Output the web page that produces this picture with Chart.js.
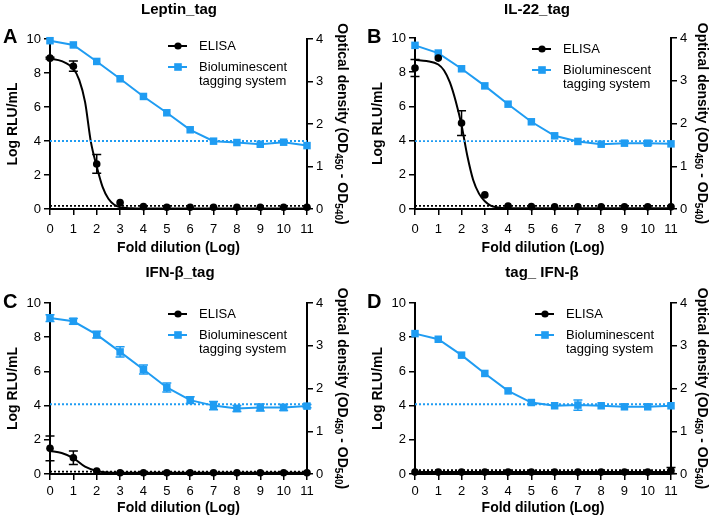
<!DOCTYPE html>
<html>
<head>
<meta charset="utf-8">
<script src="https://cdn.jsdelivr.net/npm/chart.js@4/dist/chart.umd.min.js"></script>
<style>
body { margin: 0; background: #fff; width: 713px; height: 518px; position: relative; overflow: hidden; }
canvas { position: absolute; }
</style>
</head>
<body>
<canvas id="cA" width="357" height="259" style="left:0;top:0"></canvas>
<canvas id="cB" width="355" height="259" style="left:358px;top:0"></canvas>
<canvas id="cC" width="357" height="259" style="left:0;top:259px"></canvas>
<canvas id="cD" width="355" height="259" style="left:358px;top:259px"></canvas>
<script>
// Datos
const dilution = [0, 1, 2, 3, 4, 5, 6, 7, 8, 9, 10, 11];

// A - Leptin_tag
const leptinBiolum = [9.9, 9.65, 8.68, 7.66, 6.62, 5.66, 4.66, 3.99, 3.91, 3.81, 3.93, 3.73];
const leptinBiolumErr = [0, 0, 0, 0, 0, 0, 0, 0, 0, 0, 0, 0];
const leptinElisa = [3.55, 3.36, 1.06, 0.15, 0.055, 0.04, 0.04, 0.04, 0.04, 0.04, 0.04, 0.04];
const leptinElisaErr = [0.02, 0.12, 0.22, 0, 0, 0, 0, 0, 0, 0, 0, 0];
const leptinFitX = [0, 0.5, 1, 1.25, 1.5, 1.75, 2, 2.25, 2.5, 2.75, 3, 3.5, 4, 11];
const leptinFitY = [3.54, 3.48, 3.3, 3.04, 2.52, 1.58, 1.0, 0.52, 0.24, 0.1, 0.04, 0.015, 0.01, 0.01];
const leptinCutoffs = [4.0, 0.18];

// B - IL-22_tag
const il22Biolum = [9.57, 9.12, 8.2, 7.2, 6.13, 5.1, 4.28, 3.95, 3.79, 3.85, 3.85, 3.81];
const il22BiolumErr = [0, 0, 0, 0, 0, 0, 0, 0, 0, 0, 0.1, 0];
const il22Elisa = [3.3, 3.53, 2.01, 0.33, 0.07, 0.055, 0.05, 0.05, 0.05, 0.05, 0.05, 0.05];
const il22ElisaErr = [0.2, 0, 0.29, 0, 0, 0, 0, 0, 0, 0, 0, 0];
const il22FitX = [0, 0.5, 1, 1.25, 1.5, 1.75, 2, 2.25, 2.5, 2.75, 3, 3.25, 3.5, 4, 11];
const il22FitY = [3.49, 3.46, 3.38, 3.24, 2.96, 2.52, 1.96, 1.24, 0.68, 0.36, 0.18, 0.08, 0.04, 0.02, 0.02];
const il22Cutoffs = [3.97, 0.18];

// C - IFN-β_tag
const ifnBiolum = [9.12, 8.93, 8.15, 7.14, 6.11, 5.06, 4.32, 4.0, 3.83, 3.89, 3.89, 3.97];
const ifnBiolumErr = [0.2, 0.17, 0.2, 0.3, 0.26, 0.26, 0.2, 0.24, 0.18, 0.2, 0.18, 0.1];
const ifnElisa = [0.6, 0.38, 0.07, 0.03, 0.03, 0.03, 0.03, 0.03, 0.03, 0.03, 0.03, 0.03];
const ifnElisaErr = [0.29, 0.16, 0, 0, 0, 0, 0, 0, 0, 0, 0, 0];
const ifnFitX = [0, 0.5, 1, 1.5, 2, 2.5, 3, 4, 11];
const ifnFitY = [0.54, 0.49, 0.37, 0.17, 0.07, 0.035, 0.03, 0.03, 0.03];
const ifnCutoffs = [4.08, 0.14];

// D - tag_ IFN-β
const tagIfnBiolum = [8.21, 7.88, 6.95, 5.88, 4.86, 4.18, 3.99, 4.03, 3.99, 3.93, 3.93, 3.99];
const tagIfnBiolumErr = [0, 0, 0, 0, 0, 0, 0, 0.3, 0, 0, 0, 0];
const tagIfnElisa = [0.045, 0.045, 0.045, 0.045, 0.045, 0.045, 0.045, 0.045, 0.045, 0.045, 0.045, 0.08];
const tagIfnElisaErr = [0, 0, 0, 0, 0, 0, 0, 0, 0, 0, 0, 0.07];
const tagIfnFitX = [0, 11];
const tagIfnFitY = [0.045, 0.045];
const tagIfnCutoffs = [4.08, 0.22];

const BLUE = "#1f9cf2";
const FONT = "'Liberation Sans', Arial, sans-serif";

const panels = [
    { id: "cA", title: "Leptin_tag", letter: "A", biolum: leptinBiolum, biolumErr: leptinBiolumErr,
      elisa: leptinElisa, elisaErr: leptinElisaErr, fitX: leptinFitX, fitY: leptinFitY, cut: leptinCutoffs,
      w: 357, h: 259, left: 50, right: 307, top: 39, bottom: 209,
      tx: 179, ty: 10, lx: 3, ly: 43, ytPad: 5, xtPad: 2, tickPad: 7, rtx: 342, legX: 168, legY: 46 },
    { id: "cB", title: "IL-22_tag", letter: "B", biolum: il22Biolum, biolumErr: il22BiolumErr,
      elisa: il22Elisa, elisaErr: il22ElisaErr, fitX: il22FitX, fitY: il22FitY, cut: il22Cutoffs,
      w: 355, h: 259, left: 57, right: 313, top: 38, bottom: 209,
      tx: 179, ty: 10, lx: 9, ly: 43, ytPad: 12, xtPad: 2, tickPad: 7, rtx: 344, legX: 174, legY: 49 },
    { id: "cC", title: "IFN-β_tag", letter: "C", biolum: ifnBiolum, biolumErr: ifnBiolumErr,
      elisa: ifnElisa, elisaErr: ifnElisaErr, fitX: ifnFitX, fitY: ifnFitY, cut: ifnCutoffs,
      w: 357, h: 259, left: 50, right: 307, top: 44, bottom: 215,
      tx: 180, ty: 14, lx: 3, ly: 49, ytPad: 5, xtPad: 1, tickPad: 4, rtx: 342, legX: 168, legY: 55 },
    { id: "cD", title: "tag_ IFN-β", letter: "D", biolum: tagIfnBiolum, biolumErr: tagIfnBiolumErr,
      elisa: tagIfnElisa, elisaErr: tagIfnElisaErr, fitX: tagIfnFitX, fitY: tagIfnFitY, cut: tagIfnCutoffs,
      w: 355, h: 259, left: 57, right: 313, top: 44, bottom: 215,
      tx: 184, ty: 14, lx: 9, ly: 49, ytPad: 12, xtPad: 1, tickPad: 4, rtx: 344, legX: 177, legY: 55 }
];

// Dibuja barras de error, títulos y leyenda
const decorPlugin = {
    id: "decor",
    afterDatasetsDraw(chart, args, opts) {
        const p = opts.panel;
        const ctx = chart.ctx;
        const xs = chart.scales.x, yL = chart.scales.y, yR = chart.scales.y1;
        ctx.save();

        // barras de error
        function bars(vals, errs, scale, color) {
            ctx.strokeStyle = color;
            ctx.lineWidth = 1.5;
            vals.forEach((v, i) => {
                const e = errs[i];
                if (!e) return;
                const x = xs.getPixelForValue(dilution[i]);
                const y1 = scale.getPixelForValue(v + e);
                const y2 = scale.getPixelForValue(Math.max(v - e, 0));
                ctx.beginPath();
                ctx.moveTo(x, y1); ctx.lineTo(x, y2);
                ctx.moveTo(x - 4.5, y1); ctx.lineTo(x + 4.5, y1);
                ctx.moveTo(x - 4.5, y2); ctx.lineTo(x + 4.5, y2);
                ctx.stroke();
            });
        }
        bars(p.biolum, p.biolumErr, yL, BLUE);
        bars(p.elisa, p.elisaErr, yR, "#000");

        // título y letra del panel
        ctx.fillStyle = "#000";
        ctx.textAlign = "center";
        ctx.textBaseline = "middle";
        ctx.font = "bold 15px " + FONT;
        ctx.fillText(p.title, p.tx, p.ty);
        ctx.textAlign = "left";
        ctx.textBaseline = "alphabetic";
        ctx.font = "bold 20px " + FONT;
        ctx.fillText(p.letter, p.lx, p.ly);

        // título del eje derecho con subíndices
        const parts = [
            ["Optical density (OD", 14, 0], ["450", 10, 4], [" - OD", 14, 0], ["540", 10, 4], [")", 14, 0]
        ];
        let total = 0;
        parts.forEach(s => { ctx.font = "bold " + s[1] + "px " + FONT; total += ctx.measureText(s[0]).width; });
        const cy = (chart.chartArea.top + chart.chartArea.bottom) / 2;
        ctx.translate(p.rtx, cy);
        ctx.rotate(Math.PI / 2);
        ctx.textBaseline = "middle";
        let pos = -total / 2;
        parts.forEach(s => {
            ctx.font = "bold " + s[1] + "px " + FONT;
            ctx.fillText(s[0], pos, s[2]);
            pos += ctx.measureText(s[0]).width;
        });
        ctx.setTransform(1, 0, 0, 1, 0, 0);

        // leyenda
        const lx = p.legX, ly = p.legY;
        ctx.lineWidth = 2;
        ctx.strokeStyle = "#000";
        ctx.beginPath(); ctx.moveTo(lx, ly); ctx.lineTo(lx + 19, ly); ctx.stroke();
        ctx.fillStyle = "#000";
        ctx.beginPath(); ctx.arc(lx + 10, ly, 3.6, 0, Math.PI * 2); ctx.fill();
        ctx.strokeStyle = BLUE;
        ctx.beginPath(); ctx.moveTo(lx, ly + 21); ctx.lineTo(lx + 19, ly + 21); ctx.stroke();
        ctx.fillStyle = BLUE;
        ctx.fillRect(lx + 10 - 3.8, ly + 21 - 3.8, 7.6, 7.6);
        ctx.fillStyle = "#000";
        ctx.font = "13px " + FONT;
        ctx.textBaseline = "middle";
        ctx.fillText("ELISA", lx + 31, ly);
        ctx.fillText("Bioluminescent", lx + 31, ly + 21);
        ctx.fillText("tagging system", lx + 31, ly + 35);
        ctx.restore();
    }
};

panels.forEach(p => {
    const ctx = document.getElementById(p.id).getContext("2d");
    const tickFont = { family: FONT, size: 13 };
    const axisGrid = { drawOnChartArea: false, color: "#000", lineWidth: 1.5, tickLength: 6 };
    const axisBorder = { color: "#000", width: 2 };

    new Chart(ctx, {
        type: "line",
        data: {
            datasets: [
                {
                    label: "cutoff biolum",
                    data: [{ x: 0, y: p.cut[0] }, { x: 11, y: p.cut[0] }],
                    borderColor: BLUE, borderWidth: 1.8, borderDash: [2, 2], pointRadius: 0, yAxisID: "y"
                },
                {
                    label: "cutoff elisa",
                    data: [{ x: 0, y: p.cut[1] }, { x: 11, y: p.cut[1] }],
                    borderColor: "#000", borderWidth: 1.8, borderDash: [2, 2], pointRadius: 0, yAxisID: "y"
                },
                {
                    label: "ELISA fit",
                    data: p.fitX.map((x, i) => ({ x: x, y: p.fitY[i] })),
                    borderColor: "#000", borderWidth: 2, pointRadius: 0,
                    cubicInterpolationMode: "monotone", yAxisID: "y1"
                },
                {
                    label: "ELISA",
                    data: dilution.map((x, i) => ({ x: x, y: p.elisa[i] })),
                    showLine: false, pointStyle: "circle", pointRadius: 3.8,
                    backgroundColor: "#000", borderColor: "#000", borderWidth: 0, yAxisID: "y1"
                },
                {
                    label: "Bioluminescent tagging system",
                    data: dilution.map((x, i) => ({ x: x, y: p.biolum[i] })),
                    borderColor: BLUE, backgroundColor: BLUE, borderWidth: 2,
                    pointStyle: "rect", pointRadius: 5.3, pointBorderWidth: 0, yAxisID: "y"
                }
            ]
        },
        options: {
            responsive: false,
            animation: false,
            devicePixelRatio: 1,
            clip: false,
            layout: { padding: { top: p.top, left: 0, right: 0, bottom: 0 } },
            plugins: { legend: { display: false }, tooltip: { enabled: false }, decor: { panel: p } },
            scales: {
                x: {
                    type: "linear", min: 0, max: 11,
                    ticks: { stepSize: 1, color: "#000", font: tickFont, padding: p.tickPad },
                    grid: axisGrid, border: axisBorder,
                    title: { display: true, text: "Fold dilution (Log)", color: "#000",
                             font: { family: FONT, size: 14, weight: "bold" }, padding: { top: 0, bottom: p.xtPad } },
                    afterFit: s => { s.height = p.h - p.bottom; }
                },
                y: {
                    position: "left", min: 0, max: 10,
                    ticks: { stepSize: 2, color: "#000", font: tickFont, padding: 3 },
                    grid: axisGrid, border: axisBorder,
                    title: { display: true, text: "Log RLU/mL", color: "#000",
                             font: { family: FONT, size: 14, weight: "bold" }, padding: { top: p.ytPad, bottom: 0 } },
                    afterFit: s => { s.width = p.left; }
                },
                y1: {
                    position: "right", min: 0, max: 4,
                    ticks: { stepSize: 1, color: "#000", font: tickFont, padding: 3 },
                    grid: axisGrid, border: axisBorder,
                    afterFit: s => { s.width = p.w - p.right; }
                }
            }
        },
        plugins: [decorPlugin]
    });
});
</script>
</body>
</html>
